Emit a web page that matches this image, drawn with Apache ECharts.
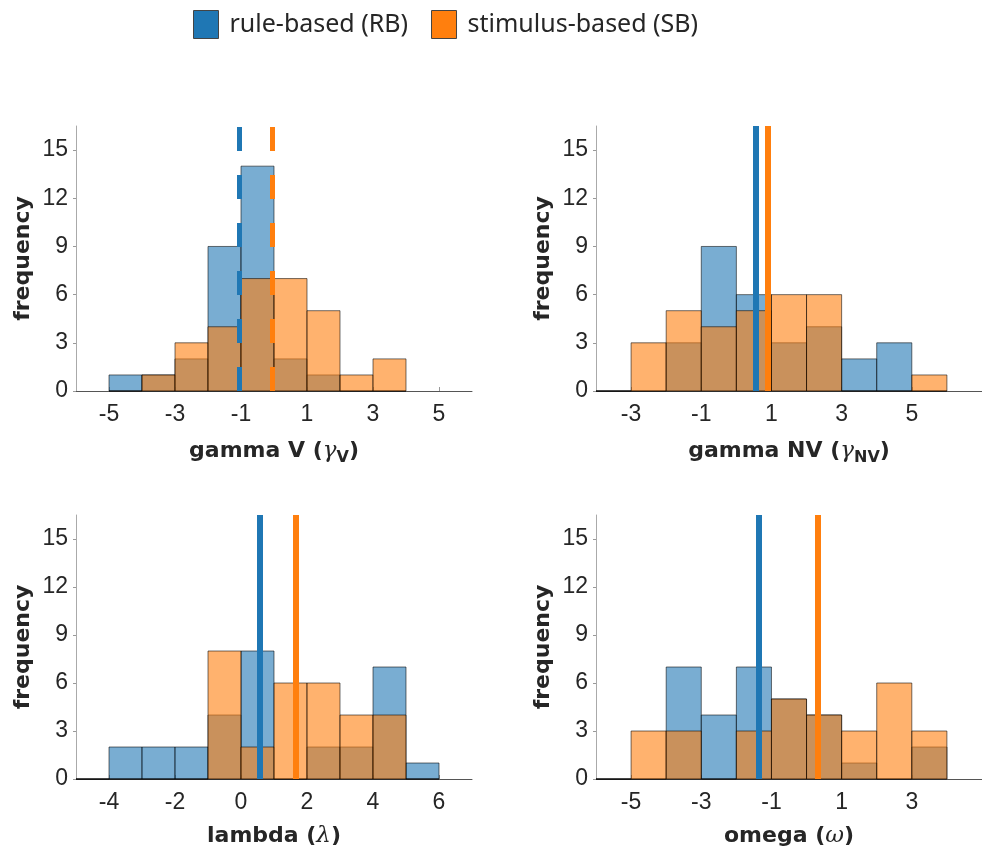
<!DOCTYPE html>
<html>
<head>
<meta charset="utf-8">
<script src="https://cdn.jsdelivr.net/npm/echarts@6/dist/echarts.min.js"></script>
<style>html,body{margin:0;padding:0;background:#fff;}#c{width:982px;height:854px;}</style>
</head>
<body>
<div id="c"></div>
<script>
// ---- data ----
const seriesNames = ['rule-based (RB)', 'stimulus-based (SB)'];
const binWidth = 1;

// gamma V
const gammaVBinStart = -5;
const gammaV_RB = [1, 1, 2, 9, 14, 2, 1, 0, 0];
const gammaV_SB = [0, 1, 3, 4, 7, 7, 5, 1, 2];
const gammaV_means = [-1.05, -0.04];
const gammaV_ticks = [-5, -3, -1, 1, 3, 5];
const gammaV_range = [-6, 6];

// gamma NV
const gammaNVBinStart = -4;
const gammaNV_RB = [0, 0, 3, 9, 6, 3, 4, 2, 3, 0];
const gammaNV_SB = [0, 3, 5, 4, 5, 6, 6, 0, 0, 1];
const gammaNV_means = [0.56, 0.885];
const gammaNV_ticks = [-3, -1, 1, 3, 5];
const gammaNV_range = [-4, 7];

// lambda
const lambdaBinStart = -5;
const lambda_RB = [0, 2, 2, 2, 4, 8, 0, 2, 2, 7, 1];
const lambda_SB = [0, 0, 0, 0, 8, 2, 6, 6, 4, 4, 0];
const lambda_means = [0.58, 1.65];
const lambda_ticks = [-4, -2, 0, 2, 4, 6];
const lambda_range = [-5, 7];

// omega
const omegaBinStart = -6;
const omega_RB = [0, 0, 7, 4, 7, 5, 4, 1, 0, 2];
const omega_SB = [0, 3, 3, 0, 3, 5, 4, 3, 6, 3];
const omega_means = [-1.36, 0.32];
const omega_ticks = [-5, -3, -1, 1, 3];
const omega_range = [-6, 5];

const yTicks = [0, 3, 6, 9, 12, 15];
const yMax = 16.5;

// ---- style ----
const lineColors = ['#1f77b4', '#ff7f0e'];
const barFills = ['rgba(31,119,180,0.6)', 'rgba(255,127,14,0.6)'];
const edge = 'rgba(0,0,0,0.55)';
const txt = '#262626';
const tickFont = 'Liberation Sans, Arial, sans-serif';
const nameFont = 'DejaVu Sans, sans-serif';

const panels = [
  {start: gammaVBinStart, rb: gammaV_RB, sb: gammaV_SB, means: gammaV_means, ticks: gammaV_ticks, range: gammaV_range,
   name: '{a|gamma V (}{g|γ}{s|V}{a|)}', dashed: true, grid: {left: 76, top: 126, width: 396, height: 265}},
  {start: gammaNVBinStart, rb: gammaNV_RB, sb: gammaNV_SB, means: gammaNV_means, ticks: gammaNV_ticks, range: gammaNV_range,
   name: '{a|gamma NV (}{g|γ}{s|NV}{a|)}', dashed: false, grid: {left: 596, top: 126, width: 396, height: 265}},
  {start: lambdaBinStart, rb: lambda_RB, sb: lambda_SB, means: lambda_means, ticks: lambda_ticks, range: lambda_range,
   name: '{a|lambda (}{g|λ}{a|)}', dashed: false, grid: {left: 76, top: 515, width: 396, height: 264}},
  {start: omegaBinStart, rb: omega_RB, sb: omega_SB, means: omega_means, ticks: omega_ticks, range: omega_range,
   name: '{a|omega (}{g|ω}{a|)}', dashed: false, grid: {left: 596, top: 515, width: 396, height: 264}}
];

function toBins(start, counts) {
  return counts.map((c, i) => [start + i * binWidth, start + (i + 1) * binWidth, c]);
}

function makeRender(fill) {
  return function (params, api) {
    const x0 = api.value(0), x1 = api.value(1), c = api.value(2);
    const p0 = api.coord([x0, c]);
    const p1 = api.coord([x1, 0]);
    return {
      type: 'rect',
      shape: {x: p0[0], y: p0[1], width: p1[0] - p0[0], height: p1[1] - p0[1]},
      style: {fill: fill, stroke: edge, lineWidth: 1}
    };
  };
}

const grids = [], xAxes = [], yAxes = [], series = [];
panels.forEach((p, i) => {
  grids.push(p.grid);
  xAxes.push({
    type: 'value', gridIndex: i, min: p.range[0], max: p.range[1],
    name: p.name, nameLocation: 'middle', nameGap: 46,
    nameTextStyle: {
      rich: {
        a: {fontSize: 22, fontWeight: 'bold', fontFamily: nameFont, color: txt},
        g: {fontSize: 23, fontStyle: 'italic', fontFamily: 'DejaVu Serif, serif', color: txt},
        s: {fontSize: 16, fontWeight: 'bold', fontFamily: nameFont, color: txt, padding: [13, 0, 0, 0]}
      }
    },
    axisLine: {show: true, onZero: false, lineStyle: {color: '#555', width: 1}},
    axisTick: {show: true, inside: true, length: 4, customValues: p.ticks, lineStyle: {color: '#999'}},
    axisLabel: {customValues: p.ticks, fontSize: 23, fontFamily: tickFont, color: txt, margin: 12},
    splitLine: {show: false}
  });
  yAxes.push({
    type: 'value', gridIndex: i, min: 0, max: yMax,
    name: 'frequency', nameLocation: 'middle', nameGap: 42, nameRotate: 90,
    nameTextStyle: {fontSize: 22, fontWeight: 'bold', fontFamily: nameFont, color: txt},
    axisLine: {show: true, onZero: false, lineStyle: {color: '#aaa', width: 1}},
    axisTick: {show: true, length: 3, customValues: yTicks, lineStyle: {color: '#999'}},
    axisLabel: {customValues: yTicks, fontSize: 23, fontFamily: tickFont, color: txt, margin: 8},
    splitLine: {show: false}
  });
  [p.rb, p.sb].forEach((counts, k) => {
    series.push({
      type: 'custom', name: seriesNames[k], xAxisIndex: i, yAxisIndex: i,
      renderItem: makeRender(barFills[k]),
      itemStyle: {color: lineColors[k]},
      encode: {x: [0, 1], y: 2},
      data: toBins(p.start, counts),
      silent: true, z: 2 + k
    });
  });
  p.means.forEach((m, k) => {
    series.push({
      type: 'line', name: 'mean ' + k, xAxisIndex: i, yAxisIndex: i, data: [], z: 5, silent: true,
      markLine: {
        symbol: ['none', 'none'], silent: true, animation: false,
        label: {show: false},
        lineStyle: p.dashed
          ? {color: lineColors[k], width: 5, type: [24, 24], cap: 'butt'}
          : {color: lineColors[k], width: 6, type: 'solid', cap: 'butt'},
        emphasis: {disabled: true},
        data: [{xAxis: m}]
      }
    });
  });
});

const chart = echarts.init(document.getElementById('c'), null, {renderer: 'canvas'});
chart.setOption({
  backgroundColor: '#fff',
  animation: false,
  legend: {
    left: 193, top: 10, padding: 0,
    itemWidth: 25, itemHeight: 28, itemGap: 23,
    icon: 'rect',
    textStyle: {fontSize: 25, fontFamily: 'Noto Sans, sans-serif', color: txt, padding: [2, 0, 0, 6]},
    data: [
      {name: seriesNames[0], itemStyle: {color: lineColors[0], borderColor: '#444', borderWidth: 1}},
      {name: seriesNames[1], itemStyle: {color: lineColors[1], borderColor: '#444', borderWidth: 1}}
    ],
    selectedMode: false
  },
  grid: grids,
  xAxis: xAxes,
  yAxis: yAxes,
  series: series
});
</script>
</body>
</html>
